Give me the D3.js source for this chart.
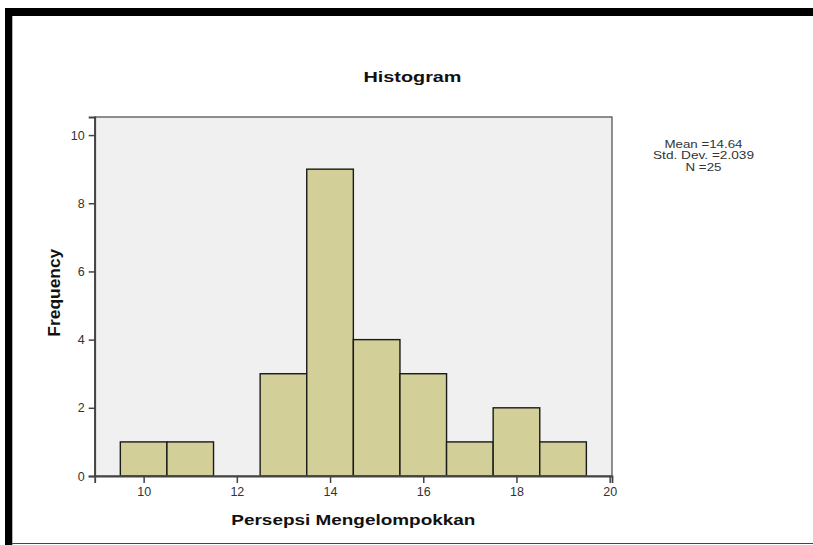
<!DOCTYPE html>
<html>
<head>
<meta charset="utf-8">
<script src="https://cdn.jsdelivr.net/npm/d3@7"></script>
<style>
  html, body { margin: 0; padding: 0; background: #fff; }
  svg { display: block; }
</style>
</head>
<body>
<script>
// ---- data ----
const binCenters = [10, 11, 12, 13, 14, 15, 16, 17, 18, 19];
const frequencies = [1, 1, 0, 3, 9, 4, 3, 1, 2, 1];
const binWidth = 1;
const xTicks = [10, 12, 14, 16, 18, 20];
const yTicks = [0, 2, 4, 6, 8, 10];
const titleText = "Histogram";
const xLabel = "Persepsi Mengelompokkan";
const yLabel = "Frequency";
const statsLines = ["Mean =14.64", "Std. Dev. =2.039", "N =25"];

// ---- layout ----
const W = 813, H = 545;
const plot = { left: 94.7, right: 612, top: 117, bottom: 476 };
const font = "'Liberation Sans', Arial, sans-serif";

const svg = d3.select("body").append("svg")
  .attr("width", W).attr("height", H);

svg.append("rect").attr("width", W).attr("height", H).attr("fill", "#fff");

// outer black frame (top + left bands, thin bottom line)
svg.append("rect").attr("x", 5).attr("y", 8).attr("width", W - 5).attr("height", 8).attr("fill", "#000");
svg.append("rect").attr("x", 5).attr("y", 8).attr("width", 7.3).attr("height", H - 8).attr("fill", "#000");
svg.append("line").attr("x1", 12).attr("x2", W).attr("y1", 543.5).attr("y2", 543.5)
  .attr("stroke", "#444").attr("stroke-width", 1.2);

const x = d3.scaleLinear().domain([8.95, 20.05]).range([plot.left, plot.right]);
const y = d3.scaleLinear().domain([0, 10.53]).range([plot.bottom, plot.top]);

// plot background
svg.append("rect")
  .attr("x", plot.left).attr("y", plot.top)
  .attr("width", plot.right - plot.left).attr("height", plot.bottom - plot.top)
  .attr("fill", "#f0f0f0");

// bars
const bins = binCenters.map((c, i) => ({ c, f: frequencies[i] })).filter(d => d.f > 0);
svg.append("g").selectAll("rect").data(bins).join("rect")
  .attr("x", d => x(d.c - binWidth / 2))
  .attr("y", d => y(d.f))
  .attr("width", d => x(d.c + binWidth / 2) - x(d.c - binWidth / 2))
  .attr("height", d => y(0) - y(d.f))
  .attr("fill", "#d3cf98")
  .attr("stroke", "#1a1a1a")
  .attr("stroke-width", 1.4);

// plot frame
svg.append("rect")
  .attr("x", plot.left).attr("y", plot.top)
  .attr("width", plot.right - plot.left).attr("height", plot.bottom - plot.top)
  .attr("fill", "none").attr("stroke", "#555").attr("stroke-width", 1.3);

// axes
const yAxis = svg.append("g").attr("transform", `translate(${plot.left},0)`)
  .call(d3.axisLeft(y).tickValues(yTicks).tickSize(6).tickPadding(4).tickFormat(d3.format("d")));
const xAxis = svg.append("g").attr("transform", `translate(0,${plot.bottom})`)
  .call(d3.axisBottom(x).tickValues(xTicks).tickSize(7).tickPadding(4.5).tickFormat(d3.format("d")));

[yAxis, xAxis].forEach(a => {
  a.select(".domain").attr("stroke", "#444").attr("stroke-width", 1.8);
  a.selectAll(".tick line").attr("stroke", "#444").attr("stroke-width", 1.5);
  a.selectAll(".tick text").attr("fill", "#333").style("font-family", font).style("font-size", "12.5px");
});

// title
svg.append("text")
  .attr("x", 412.5).attr("y", 82)
  .attr("text-anchor", "middle")
  .attr("textLength", 98).attr("lengthAdjust", "spacingAndGlyphs")
  .style("font-family", font).style("font-weight", "bold").style("font-size", "15px")
  .attr("fill", "#111")
  .text(titleText);

// x label
svg.append("text")
  .attr("x", (plot.left + plot.right) / 2).attr("y", 525)
  .attr("text-anchor", "middle")
  .attr("textLength", 244).attr("lengthAdjust", "spacingAndGlyphs")
  .style("font-family", font).style("font-weight", "bold").style("font-size", "15px")
  .attr("fill", "#111")
  .text(xLabel);

// y label
svg.append("text")
  .attr("transform", "translate(59.5,292.7) rotate(-90)")
  .attr("text-anchor", "middle")
  .attr("textLength", 88).attr("lengthAdjust", "spacingAndGlyphs")
  .style("font-family", font).style("font-weight", "bold").style("font-size", "16px")
  .attr("fill", "#111")
  .text(yLabel);

// stats box text
const statLen = [78, 101, 36];
svg.append("g").selectAll("text").data(statsLines).join("text")
  .attr("x", 703.5)
  .attr("y", (d, i) => 148 + i * 11.35)
  .attr("text-anchor", "middle")
  .attr("textLength", (d, i) => statLen[i]).attr("lengthAdjust", "spacingAndGlyphs")
  .style("font-family", font).style("font-size", "10.3px")
  .attr("fill", "#333")
  .text(d => d);
</script>
</body>
</html>
